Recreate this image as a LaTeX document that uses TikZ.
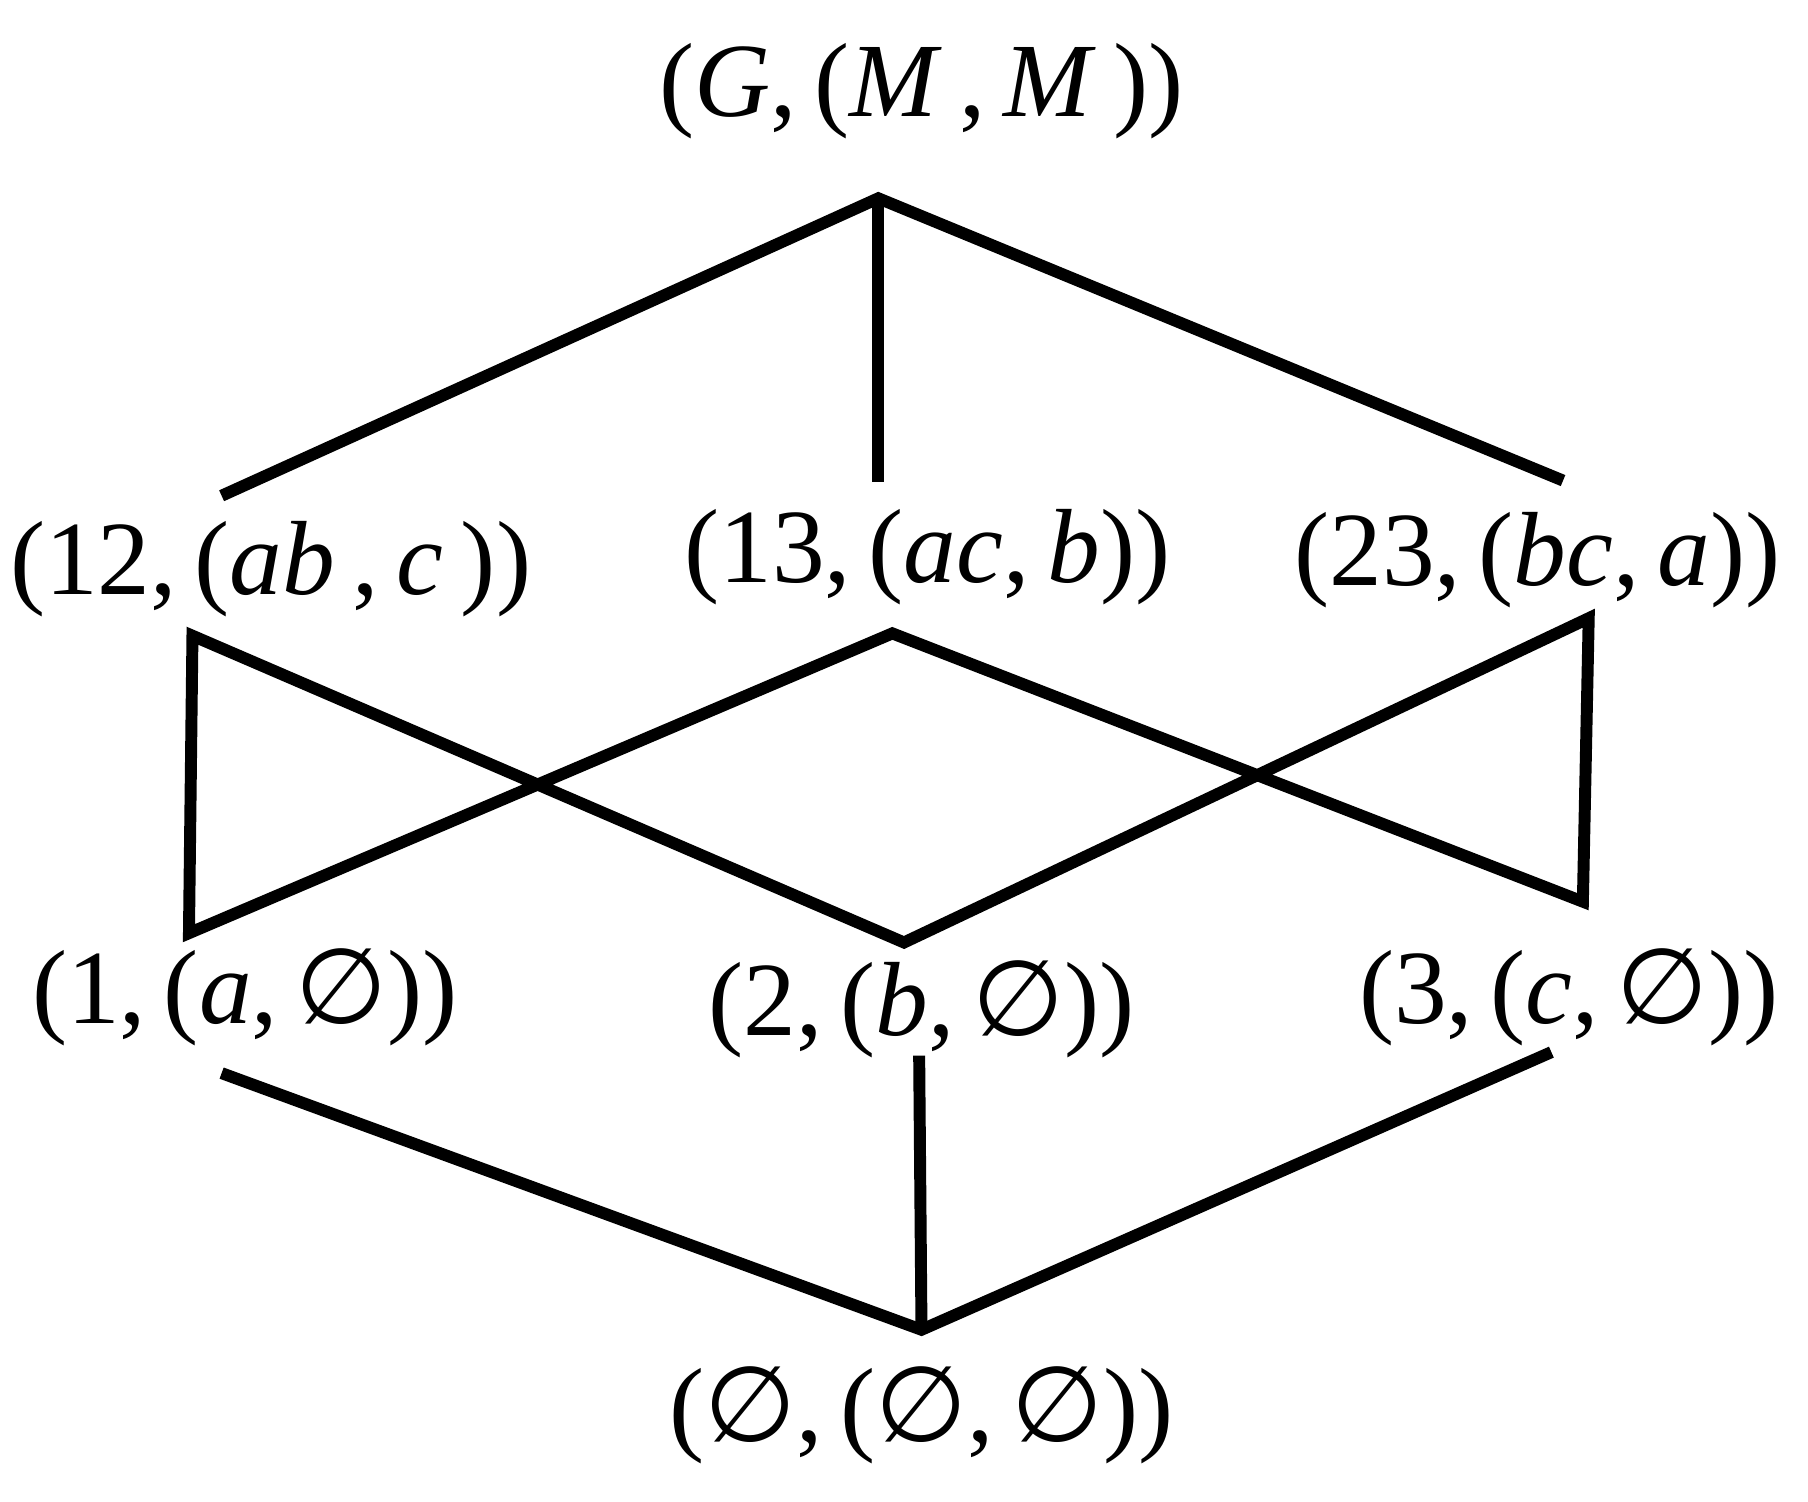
\documentclass[tikz,border=0pt]{standalone}
\usepackage{fontspec}
\setmainfont{Liberation Serif}
\newfontfamily\symfont{DejaVu Sans}
\newcommand{\es}{{\symfont ∅}}
\begin{document}
\begin{tikzpicture}[x=0.11665mm,y=-0.11665mm,
  lbl/.style={inner sep=0pt,font=\fontsize{30}{35}\selectfont},
  edge/.style={line width=3.4pt}]
\useasboundingbox (0,0) rectangle (1550,1287);
\node[lbl] (top) at (790,78) {(\textit{G},\,(\textit{M}\,,\,\textit{M}\,))};
\node[lbl] (n12) at (232,488) {(12,\,(\textit{ab}\,,\,\textit{c}\,))};
\node[lbl] (n13) at (795,478) {(13,\,(\textit{ac},\,\textit{b}))};
\node[lbl] (n23) at (1318,480) {(23,\,(\textit{bc},\,\textit{a}))};
\node[lbl] (n1) at (210,855) {(1,\,(\textit{a},\,\es))};
\node[lbl] (n2) at (790,865) {(2,\,(\textit{b},\,\es))};
\node[lbl] (n3) at (1345,855) {(3,\,(\textit{c},\,\es))};
\node[lbl] (bot) at (790,1213) {(\es,\,(\es,\,\es))};
\coordinate (t) at (753,170);
\coordinate (a1) at (190,425); \coordinate (a2) at (753,413); \coordinate (a3) at (1340,412);
\coordinate (m1) at (165,545); \coordinate (m2) at (765,543); \coordinate (m3) at (1362,530);
\coordinate (l1) at (162,800); \coordinate (l2) at (775,808); \coordinate (l3) at (1357,773);
\coordinate (b1) at (190,920); \coordinate (b2) at (788,905); \coordinate (b3) at (1330,902);
\coordinate (z) at (790,1140);
\draw[edge] (a1) -- (t) -- (a3); \draw[edge] (t) -- (a2);
\draw[edge] (l1) -- (m1) -- (l2) -- (m3) -- (l3) -- (m2) -- cycle;
\draw[edge] (b1) -- (z) -- (b3); \draw[edge] (b2) -- (z);
\end{tikzpicture}
\end{document}
